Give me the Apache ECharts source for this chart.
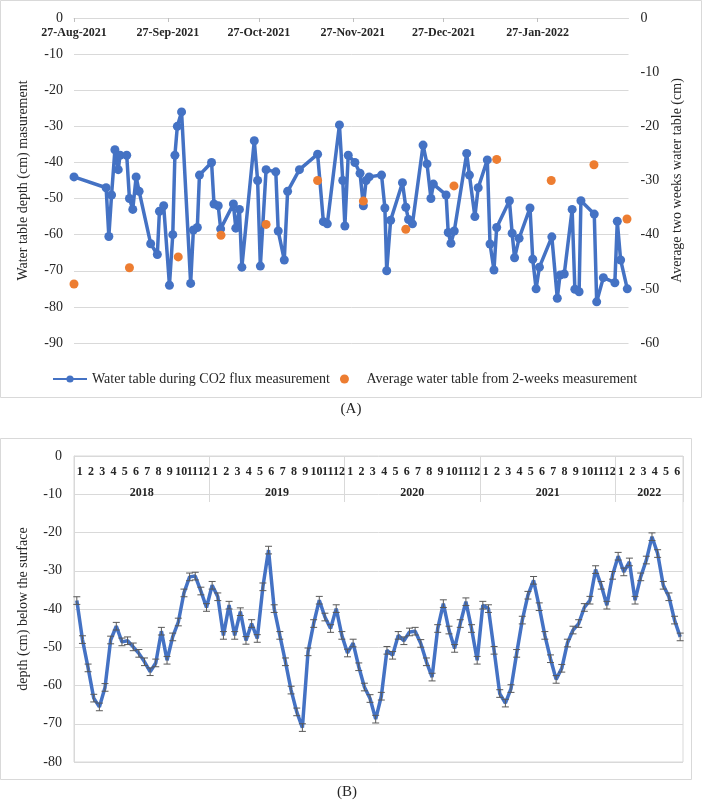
<!DOCTYPE html>
<html><head><meta charset="utf-8">
<script src="https://cdn.jsdelivr.net/npm/echarts@6/dist/echarts.min.js"></script>
<style>html,body{margin:0;padding:0;background:#fff}#c{width:703px;height:802px}</style>
</head><body><div id="c"></div>
<script>
// ---------- Panel A data ----------
// x values: days since 27-Aug-2021
const dateTickDays = [0, 31, 61, 92, 122, 153];
const dateTickLabels = ['27-Aug-2021','27-Sep-2021','27-Oct-2021','27-Nov-2021','27-Dec-2021','27-Jan-2022'];
const co2Days = [0,10.6,11.5,12.4,13.5,14.6,15.2,17.4,18.3,19.4,20.5,21.5,25.3,27.5,28.2,29.6,31.5,32.6,33.3,34.1,35.5,38.5,39.4,40.7,41.4,45.4,46.2,47.6,48.4,52.6,53.4,54.6,55.4,59.5,60.6,61.5,63.4,66.6,67.4,69.4,70.5,74.4,80.4,82.3,83.6,87.6,88.7,89.4,90.5,92.7,94.4,95.5,96.4,97.4,101.5,102.6,103.2,104.5,108.4,109.5,110.4,111.7,115.2,116.5,117.8,118.6,122.8,123.5,124.4,125.5,129.6,130.5,132.3,133.4,136.4,137.3,138.6,139.5,143.7,144.6,145.4,146.9,150.5,151.4,152.5,153.6,157.7,159.5,160.4,161.8,164.4,165.3,166.7,167.3,171.7,172.5,174.7,178.5,179.3,180.4,182.6];
const co2Depth = [-44,-47,-60.5,-49,-36.5,-42,-38,-38,-50,-53,-44,-48,-62.5,-65.5,-53.5,-52,-74,-60,-38,-30,-26,-73.5,-58.7,-58,-43.5,-40,-51.5,-52,-58.4,-51.5,-58.2,-53,-69,-34,-45,-68.7,-42,-42.6,-59,-67,-48,-42,-37.7,-56.4,-57,-29.6,-45,-57.6,-38,-40,-43,-52,-45,-44,-43.5,-52.6,-70,-56,-45.6,-52.4,-55.8,-57,-35.2,-40.4,-50,-46,-49,-59.4,-62.4,-59,-37.5,-43.5,-55,-47,-39.3,-62.6,-69.8,-58,-50.6,-59.6,-66.4,-61,-52.6,-66.8,-75,-69,-60.6,-77.6,-71.2,-70.9,-53,-75.1,-75.8,-50.6,-54.3,-78.6,-71.9,-73.3,-56.3,-67,-75];
const avgDays = [0,18.3,34.4,48.5,63.4,80.4,95.5,109.5,125.4,139.5,157.5,171.6,182.5];
const avgDepth = [-49.1,-46.1,-44.1,-40.1,-38.1,-30.0,-33.8,-39.0,-31.0,-26.1,-30.0,-27.1,-37.1];

// ---------- Panel B data ----------
const years = ['2018','2019','2020','2021','2022'];
const monthsPerYear = [12,12,12,12,6];
const monthLabels = ['1','2','3','4','5','6','7','8','9','10','11','12',
                     '1','2','3','4','5','6','7','8','9','10','11','12',
                     '1','2','3','4','5','6','7','8','9','10','11','12',
                     '1','2','3','4','5','6','7','8','9','10','11','12',
                     '1','2','3','4','5','6'];
// two (half-month) values per month
const halfMonthDepth = [
 -37.8,-48,-55.4,-63.3,-65.6,-60.5,-48.1,-44.5,-48.6,-48.3,-49.9,-51.6,-53.8,-56.4,-54.1,-45.8,-53.4,-47.3,-43.4,-35.8,-31.6,-31.4,-35.3,-39.6,
 -33.8,-36.8,-46.9,-39,-46.9,-40.7,-48.2,-43.8,-47.7,-34.2,-24.6,-39.9,-46.9,-53.8,-61.2,-66.9,-71,-51.2,-43.8,-37.7,-42.1,-45.1,-39.9,-46.9,
 -51.5,-48.9,-55.1,-60.4,-63.4,-68.8,-62.8,-50.8,-52.1,-46.9,-48.3,-46,-45.8,-49,-53.8,-57.8,-45.1,-38.6,-45.5,-50.3,-43.8,-38.1,-45.1,-53.4,
 -39,-39.9,-50.8,-62.1,-64.6,-60.8,-51.6,-42.9,-36.4,-32.5,-39.4,-46.9,-53,-58.4,-55.5,-48.9,-45.5,-43.8,-39.6,-37.7,-29.7,-33.8,-39,-31.2,
 -26.2,-30.3,-27.7,-37.7,-31.6,-27.2,-21.1,-25.5,-33.8,-36.8,-42.9,-47.3];
const errorHalf = 1; // fixed-value error bars

// ---------- build helpers ----------
const catsB = [];
years.forEach((y, yi) => { for (let m = 1; m <= monthsPerYear[yi]; m++) { catsB.push(y + '-' + m + 'a', y + '-' + m + 'b'); } });
const yearBounds = [], yearCenters = [];
let acc = 0;
monthsPerYear.forEach(n => { yearCenters.push(acc + n / 2); acc += n; yearBounds.push(acc); });

const FONT = 'Liberation Serif';
const TXT = '#262626';
const GRIDC = '#d9d9d9';
const BLUE = '#4472C4', ORANGE = '#ED7D31';

const chart = echarts.init(document.getElementById('c'), null, {renderer: 'canvas'});
const lbl = (size, bold) => ({fontFamily: FONT, fontSize: size, fontWeight: bold ? 'bold' : 'normal', color: TXT});

const option = {
  animation: false,
  backgroundColor: '#fff',
  grid: [
    {left: 74, top: 18, width: 554.5, height: 325, outerBoundsMode: 'none'},
    {left: 74, top: 456, width: 609, height: 306, show: true, borderColor: GRIDC, borderWidth: 1, outerBoundsMode: 'none'}
  ],
  legend: {
    left: 47, top: 367, itemWidth: 34, itemHeight: 9, itemGap: 10,
    textStyle: lbl(14, false),
    data: ['Water table during CO2 flux measurement', 'Average water table from 2-weeks measurement']
  },
  xAxis: [
    {gridIndex: 0, type: 'value', position: 'top', min: 0, max: 183,
     axisLine: {show: true, onZero: false, lineStyle: {color: GRIDC}},
     axisTick: {show: true, inside: true, length: 4, customValues: dateTickDays, lineStyle: {color: '#bfbfbf'}},
     axisLabel: Object.assign({inside: true, margin: 9, customValues: dateTickDays,
       formatter: v => dateTickLabels[dateTickDays.indexOf(v)]}, lbl(12, true)),
     splitLine: {show: false}},
    {gridIndex: 1, type: 'category', data: catsB, position: 'top', boundaryGap: true,
     axisLine: {show: false, onZero: false}, axisTick: {show: false}, axisLabel: {show: false}, splitLine: {show: false}},
    {gridIndex: 1, type: 'category', data: monthLabels, position: 'top', boundaryGap: true,
     axisLine: {show: false, onZero: false}, axisTick: {show: false},
     axisLabel: Object.assign({inside: true, interval: 0, margin: 10}, lbl(12, true)), splitLine: {show: false}},
    {gridIndex: 1, type: 'value', position: 'top', min: 0, max: 54,
     axisLine: {show: false, onZero: false},
     axisTick: {show: true, inside: true, length: 46, customValues: yearBounds, lineStyle: {color: GRIDC}},
     axisLabel: Object.assign({inside: true, margin: 31, customValues: yearCenters,
       formatter: v => years[yearCenters.indexOf(v)]}, lbl(12, true)),
     splitLine: {show: false}}
  ],
  yAxis: [
    {gridIndex: 0, type: 'value', min: -90, max: 0, interval: 10,
     name: 'Water table depth (cm) masurement', nameLocation: 'middle', nameGap: 44, nameTextStyle: lbl(14, false),
     axisLine: {show: false}, axisTick: {show: false},
     axisLabel: Object.assign({margin: 11}, lbl(14, false)),
     splitLine: {show: true, lineStyle: {color: GRIDC, width: 1}}},
    {gridIndex: 0, type: 'value', position: 'right', min: -60, max: 0, interval: 10,
     name: 'Average two weeks water table (cm)', nameLocation: 'middle', nameGap: 40, nameTextStyle: lbl(14, false),
     axisLine: {show: false}, axisTick: {show: false},
     axisLabel: Object.assign({margin: 12}, lbl(14, false)),
     splitLine: {show: false}},
    {gridIndex: 1, type: 'value', min: -80, max: 0, interval: 10,
     name: 'depth (cm) below the surface', nameLocation: 'middle', nameGap: 44, nameTextStyle: lbl(14, false),
     axisLine: {show: true, onZero: false, lineStyle: {color: GRIDC}}, axisTick: {show: false},
     axisLabel: Object.assign({margin: 12}, lbl(14, false)),
     splitLine: {show: true, lineStyle: {color: GRIDC, width: 1}}}
  ],
  series: [
    {name: 'Water table during CO2 flux measurement', type: 'line', xAxisIndex: 0, yAxisIndex: 0,
     data: co2Days.map((d, i) => [d, co2Depth[i]]),
     symbol: 'circle', symbolSize: 9, showAllSymbol: true,
     lineStyle: {width: 3.5, color: BLUE}, itemStyle: {color: BLUE, opacity: 1}},
    {name: 'Average water table from 2-weeks measurement', type: 'scatter', xAxisIndex: 0, yAxisIndex: 1,
     data: avgDays.map((d, i) => [d, avgDepth[i]]),
     symbol: 'circle', symbolSize: 9, itemStyle: {color: ORANGE, opacity: 1}, z: 3},
    {name: 'depthB', type: 'line', xAxisIndex: 1, yAxisIndex: 2, data: halfMonthDepth,
     symbol: 'none', lineStyle: {width: 3.5, color: BLUE}},
    {name: 'errB', type: 'custom', xAxisIndex: 1, yAxisIndex: 2, z: 4,
     data: halfMonthDepth.map((v, i) => [i, v - errorHalf, v + errorHalf]),
     encode: {x: 0, y: [1, 2]},
     renderItem: (params, api) => {
       const x = api.value(0);
       const lo = api.coord([x, api.value(1)]);
       const hi = api.coord([x, api.value(2)]);
       const c = 3.5;
       const st = {stroke: '#595959', lineWidth: 1};
       return {type: 'group', children: [
         {type: 'line', shape: {x1: lo[0], y1: lo[1], x2: hi[0], y2: hi[1]}, style: st},
         {type: 'line', shape: {x1: lo[0] - c, y1: lo[1], x2: lo[0] + c, y2: lo[1]}, style: st},
         {type: 'line', shape: {x1: hi[0] - c, y1: hi[1], x2: hi[0] + c, y2: hi[1]}, style: st}
       ]};
     }}
  ],
  graphic: [
    {type: 'rect', silent: true, z: -10, shape: {x: 0.5, y: 0.5, width: 701, height: 397}, style: {fill: 'none', stroke: GRIDC, lineWidth: 1}},
    {type: 'rect', silent: true, z: -10, shape: {x: 0.5, y: 438.5, width: 691, height: 341}, style: {fill: 'none', stroke: GRIDC, lineWidth: 1}},
    {type: 'text', x: 351, y: 409, style: {text: '(A)', font: '15px "Liberation Serif"', fill: TXT, align: 'center', verticalAlign: 'middle'}},
    {type: 'text', x: 347, y: 792, style: {text: '(B)', font: '15px "Liberation Serif"', fill: TXT, align: 'center', verticalAlign: 'middle'}}
  ]
};
chart.setOption(option);
</script>
</body></html>
